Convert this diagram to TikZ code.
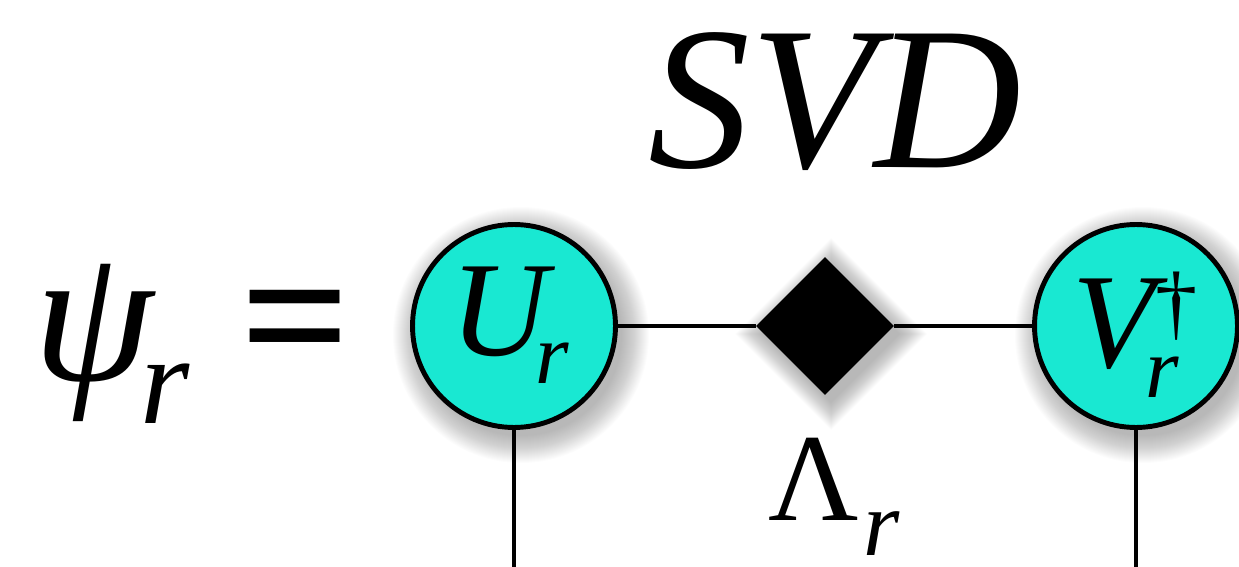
\documentclass[tikz,border=0pt]{standalone}
\usepackage{fontspec}
\setmainfont{Liberation Serif}
\usetikzlibrary{shapes.geometric}
\definecolor{tq}{RGB}{25,232,210}
\begin{document}
\begin{tikzpicture}[x=0.02cm,y=-0.02cm,
  tensor/.style={circle, draw=black, line width=2.8pt, fill=tq, minimum size=4.06cm, inner sep=0pt},
  lam/.style={diamond, fill=black, minimum width=2.76cm, minimum height=2.76cm, inner sep=0pt, aspect=1},
  leg/.style={line width=2.3pt},
  txt/.style={inner sep=0pt, anchor=base west},
  shade/.style={black, opacity=0.011}
]
\useasboundingbox (0,0) rectangle (1239,567);
% soft shadows
\foreach \i in {0,...,27}{
  \fill[shade] (521,335) circle[radius={(128-\i)*0.02cm}];
  \fill[shade] (1143,335) circle[radius={(128-\i)*0.02cm}];
  \pgfmathsetmacro{\h}{96-\i}
  \fill[shade] ({831-\h},334) -- (831,{334-\h}) -- ({831+\h},334) -- (831,{334+\h}) -- cycle;
}
% nodes
\node[tensor] (U) at (514,326) {};
\node[tensor] (V) at (1136,326) {};
\node[lam] (L) at (825,326) {};
\coordinate (Ub) at (514,567);
\coordinate (Vb) at (1136,567);
\draw[leg] (U) -- (L);
\draw[leg] (L) -- (V);
\draw[leg] (U) -- (Ub);
\draw[leg] (V) -- (Vb);
% texts
\node[txt, font=\fontsize{116}{116}\selectfont\itshape] (svd) at (648,168) {SVD};
\node[txt, font=\fontsize{110}{110}\selectfont\itshape] (psi) at (33,380) {ψ};
\node[txt, font=\fontsize{72}{72}\selectfont\itshape] (psir) at (140,423) {r};
\node[inner sep=0pt, font=\fontsize{110}{110}\selectfont\bfseries] (eq) at (296,335) {=};
\node[txt, font=\fontsize{77}{77}\selectfont\itshape] (Ut) at (450,355) {U};
\node[txt, font=\fontsize{49}{49}\selectfont\itshape] (Ur) at (535,383) {r};
\node[txt, font=\fontsize{77}{77}\selectfont\itshape] (Vt) at (1072,367) {V};
\node[txt, font=\fontsize{48}{48}\selectfont] (Vd) at (1155,330) {†};
\node[txt, font=\fontsize{49}{49}\selectfont\itshape] (Vr) at (1145,397) {r};
\node[txt, font=\fontsize{71}{71}\selectfont] (Lt) at (768,520) {Λ};
\node[txt, font=\fontsize{53}{53}\selectfont\itshape] (Lr) at (863,555) {r};
\end{tikzpicture}
\end{document}
